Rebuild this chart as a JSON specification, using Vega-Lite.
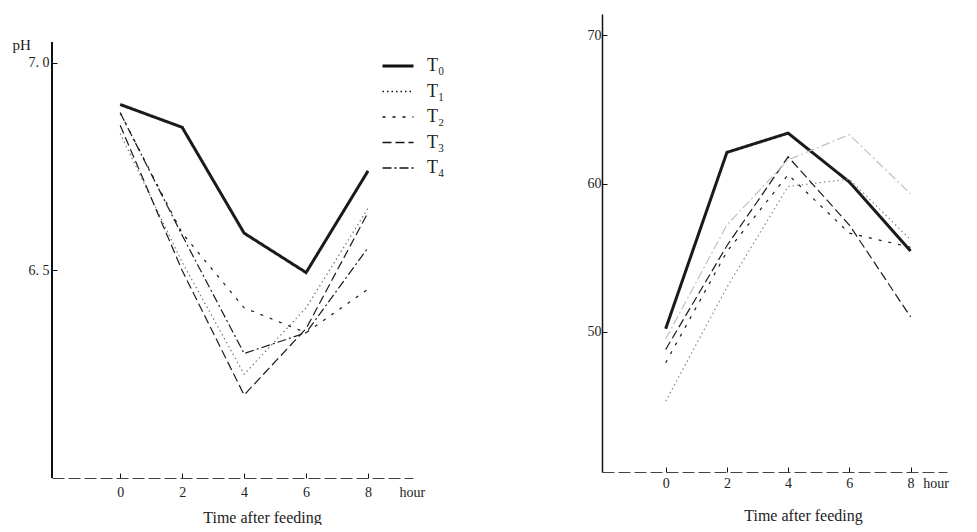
{
  "$schema": "https://vega.github.io/schema/vega-lite/v6.json",
  "background": "white",
  "padding": {"left": 12, "top": 14, "right": 0, "bottom": 0},
  "spacing": 142,
  "config": {
    "view": {"stroke": null},
    "font": "Liberation Serif",
    "axis": {
      "grid": false,
      "labelFont": "Liberation Serif",
      "titleFont": "Liberation Serif",
      "labelColor": "#222",
      "titleColor": "#222",
      "labelFontSize": 14,
      "titleFontSize": 16,
      "titleFontWeight": "normal",
      "domainColor": "#111",
      "tickColor": "#111",
      "labelFlush": false,
      "labelOverlap": false
    }
  },
  "resolve": {"scale": {"strokeDash": "independent"}},
  "datasets": {
    "ph": [
      {"group": "T₀", "hour": 0, "pH": 6.90},
      {"group": "T₀", "hour": 2, "pH": 6.845},
      {"group": "T₀", "hour": 4, "pH": 6.59},
      {"group": "T₀", "hour": 6, "pH": 6.495},
      {"group": "T₀", "hour": 8, "pH": 6.74},
      {"group": "T₁", "hour": 0, "pH": 6.83},
      {"group": "T₁", "hour": 2, "pH": 6.52},
      {"group": "T₁", "hour": 4, "pH": 6.25},
      {"group": "T₁", "hour": 6, "pH": 6.41},
      {"group": "T₁", "hour": 8, "pH": 6.65},
      {"group": "T₂", "hour": 0, "pH": 6.88},
      {"group": "T₂", "hour": 2, "pH": 6.59},
      {"group": "T₂", "hour": 4, "pH": 6.41},
      {"group": "T₂", "hour": 6, "pH": 6.35},
      {"group": "T₂", "hour": 8, "pH": 6.455},
      {"group": "T₃", "hour": 0, "pH": 6.85},
      {"group": "T₃", "hour": 2, "pH": 6.50},
      {"group": "T₃", "hour": 4, "pH": 6.20},
      {"group": "T₃", "hour": 6, "pH": 6.36},
      {"group": "T₃", "hour": 8, "pH": 6.64},
      {"group": "T₄", "hour": 0, "pH": 6.88},
      {"group": "T₄", "hour": 2, "pH": 6.585},
      {"group": "T₄", "hour": 4, "pH": 6.30},
      {"group": "T₄", "hour": 6, "pH": 6.35},
      {"group": "T₄", "hour": 8, "pH": 6.555}
    ],
    "right": [
      {"group": "T₀", "hour": 0, "value": 50.2},
      {"group": "T₀", "hour": 2, "value": 62.1},
      {"group": "T₀", "hour": 4, "value": 63.4},
      {"group": "T₀", "hour": 6, "value": 60.1},
      {"group": "T₀", "hour": 8, "value": 55.45},
      {"group": "T₁", "hour": 0, "value": 45.3},
      {"group": "T₁", "hour": 2, "value": 53.0},
      {"group": "T₁", "hour": 4, "value": 59.8},
      {"group": "T₁", "hour": 6, "value": 60.3},
      {"group": "T₁", "hour": 8, "value": 56.2},
      {"group": "T₂", "hour": 0, "value": 47.9},
      {"group": "T₂", "hour": 2, "value": 55.4},
      {"group": "T₂", "hour": 4, "value": 60.6},
      {"group": "T₂", "hour": 6, "value": 56.65},
      {"group": "T₂", "hour": 8, "value": 55.7},
      {"group": "T₃", "hour": 0, "value": 48.8},
      {"group": "T₃", "hour": 2, "value": 55.8},
      {"group": "T₃", "hour": 4, "value": 61.8},
      {"group": "T₃", "hour": 6, "value": 57.2},
      {"group": "T₃", "hour": 8, "value": 51.0},
      {"group": "T₄", "hour": 0, "value": 49.5},
      {"group": "T₄", "hour": 2, "value": 57.2},
      {"group": "T₄", "hour": 4, "value": 61.6},
      {"group": "T₄", "hour": 6, "value": 63.3},
      {"group": "T₄", "hour": 8, "value": 59.3}
    ]
  },
  "hconcat": [
    {
      "width": 361,
      "height": 464,
      "data": {"name": "ph"},
      "layer": [
        {
          "mark": {"type": "line", "strokeJoin": "miter"},
          "encoding": {
            "x": {
              "field": "hour", "type": "quantitative",
              "scale": {"domain": [-2.2, 9.45], "nice": false, "zero": false},
              "axis": {
                "values": [0, 2, 4, 6, 8, 9],
                "labelExpr": "datum.value > 8.5 ? 'hour' : datum.label",
                "labelAlign": {"condition": {"test": "datum.value > 8.5", "value": "left"}, "value": "center"},
                "tickOpacity": {"condition": {"test": "datum.value > 8.5", "value": 0}, "value": 1},
                "tickSize": -5,
                "labelPadding": 12,
                "domainDash": [12, 4],
                "domainColor": "#444",
                "title": "Time after feeding",
                "titleX": 210,
                "titleY": 39,
                "titleBaseline": "middle"
              }
            },
            "y": {
              "field": "pH", "type": "quantitative",
              "scale": {"domain": [6.0, 7.118], "nice": false, "zero": false},
              "axis": {
                "values": [6.5, 7.0],
                "domain": false,
                "labelExpr": "replace(format(datum.value, '.1f'), '.', '. ')",
                "tickSize": -5,
                "labelPadding": 8,
                "title": "pH",
                "titleAngle": 0,
                "titleAlign": "left",
                "titleBaseline": "middle",
                "titleFontSize": 15,
                "titleX": -40,
                "titleY": 30
              }
            },
            "strokeDash": {
              "field": "group", "type": "nominal",
              "scale": {
                "domain": ["T₀", "T₁", "T₂", "T₃", "T₄"],
                "range": [[1, 0], [1.5, 3], [3, 7], [9, 4], [9, 3, 2, 3]]
              },
              "legend": {
                "orient": "none",
                "legendX": 337,
                "legendY": 43,
                "title": null,
                "padding": 0,
                "symbolType": "stroke",
                "symbolSize": 961,
                "symbolStrokeColor": "#111",
                "symbolStrokeWidth": 1.3,
                "labelFont": "Liberation Serif",
                "labelFontSize": 18,
                "labelColor": "#222",
                "labelOffset": 20,
                "rowPadding": 7.5,
                "encode": {"symbols": {"update": {"strokeWidth": {"signal": "datum.value === 'T₀' ? 3 : 1.3"}}}}
              }
            },
            "color": {"condition": {"test": "datum.group === 'T₁'", "value": "#777"}, "value": "#1a1a1a"},
            "strokeWidth": {"condition": {"test": "datum.group === 'T₀'", "value": 3}, "value": 1.2}
          }
        },
        {
          "mark": {"type": "rule", "color": "#111", "strokeWidth": 1.5},
          "encoding": {
            "x": {"datum": -2.2, "type": "quantitative"},
            "y": {"datum": 6.0, "type": "quantitative"},
            "y2": {"datum": 7.05}
          }
        }
      ]
    },
    {
      "width": 345,
      "height": 458,
      "data": {"name": "right"},
      "mark": {"type": "line", "strokeJoin": "miter"},
      "encoding": {
        "x": {
          "field": "hour", "type": "quantitative",
          "scale": {"domain": [-2.08, 9.19], "nice": false, "zero": false},
          "axis": {
            "values": [0, 2, 4, 6, 8, 8.4],
            "labelExpr": "datum.value > 8.2 ? 'hour' : datum.label",
            "labelAlign": {"condition": {"test": "datum.value > 8.2", "value": "left"}, "value": "center"},
            "tickOpacity": {"condition": {"test": "datum.value > 8.2", "value": 0}, "value": 1},
            "tickSize": -5,
            "labelPadding": 9,
            "domainDash": [12, 4],
            "domainColor": "#444",
            "title": "Time after feeding",
            "titleX": 201,
            "titleY": 43,
            "titleBaseline": "middle"
          }
        },
        "y": {
          "field": "value", "type": "quantitative",
          "scale": {"domain": [40.53, 71.44], "nice": false, "zero": false},
          "axis": {
            "values": [50, 60, 70],
            "domainWidth": 1.5,
            "tickSize": -5,
            "labelPadding": 6,
            "title": null
          }
        },
        "strokeDash": {
          "field": "group", "type": "nominal",
          "scale": {
            "domain": ["T₀", "T₁", "T₂", "T₃", "T₄"],
            "range": [[1, 0], [1.5, 3], [3, 7], [9, 4], [9, 3, 2, 3]]
          },
          "legend": null
        },
        "color": {"condition": {"test": "datum.group === 'T₁'", "value": "#888"}, "value": {"expr": "datum.group === 'T₄' ? '#c0c0c0' : '#1a1a1a'"}},
        "strokeWidth": {"condition": {"test": "datum.group === 'T₀'", "value": 3}, "value": 1.2}
      }
    }
  ]
}
